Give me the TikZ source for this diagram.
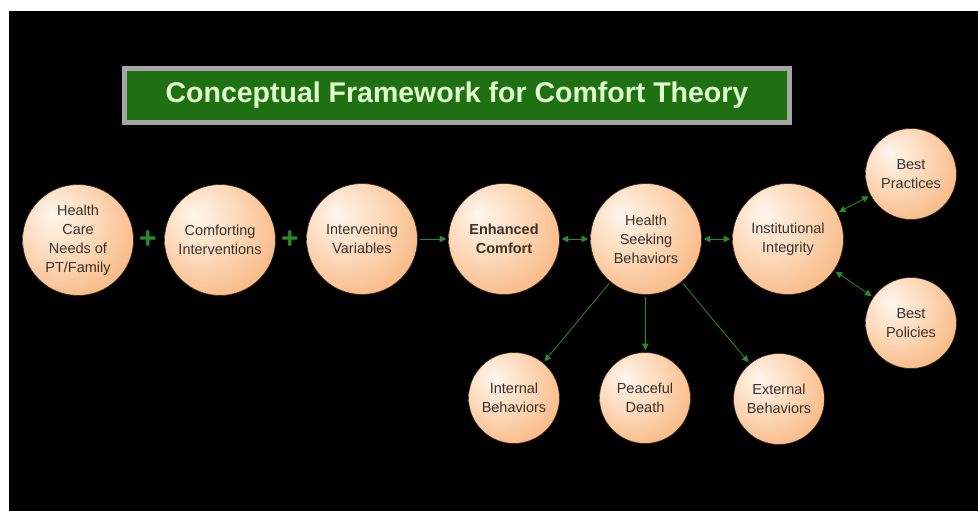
\documentclass[tikz,border=0pt]{standalone}
\usepackage{fontspec}
\setmainfont{Liberation Sans}
\usetikzlibrary{arrows.meta}
\definecolor{orbA}{RGB}{255,246,238}
\definecolor{orbB}{RGB}{252,216,184}
\definecolor{orbC}{RGB}{246,162,95}
\definecolor{orbD}{RGB}{236,122,38}
\definecolor{arrgreen}{RGB}{40,140,40}
\definecolor{titlegreen}{RGB}{30,112,18}
\definecolor{titlegray}{RGB}{165,165,165}
\definecolor{titletext}{RGB}{225,255,205}
\definecolor{orbtext}{RGB}{58,50,42}
\definecolor{orbedge}{RGB}{60,40,25}
\pgfdeclareradialshading{orb}{\pgfpoint{-12bp}{12bp}}{color(0bp)=(orbA); color(18bp)=(orbB); color(46bp)=(orbC); color(67bp)=(orbD)}
\tikzset{
  orbbig/.style={circle, minimum size=111pt, inner sep=0pt, shading=orb, draw=orbedge, line width=0.6pt,
    text=orbtext, align=center, font=\fontsize{14.5}{19}\selectfont},
  orbsmall/.style={orbbig, minimum size=91pt},
  arr/.style={draw=arrgreen, line width=0.8pt, shorten <=2pt, shorten >=2pt},
  tip/.style={-{Triangle[length=6.5pt,width=6.5pt]}},
  tips/.style={{Triangle[length=6.5pt,width=6.5pt]}-{Triangle[length=6.5pt,width=6.5pt]}},
  plussign/.style={text=arrgreen, font=\fontsize{30}{30}\selectfont\bfseries, inner sep=0pt}
}
\begin{document}
\begin{tikzpicture}[x=1pt,y=-1pt]
\useasboundingbox (0,0) rectangle (978,511);
\fill[white] (0,0) rectangle (978,511);
\fill[black] (9,11) rectangle (978,511);
% title
\node[draw=titlegray, line width=5pt, fill=titlegreen, minimum width=665pt, minimum height=54pt,
  text=titletext, font=\fontsize{28.5}{28.5}\selectfont\bfseries] (title) at (457,95.5)
  {Conceptual Framework for Comfort Theory};
% circles
\node[orbbig] (hc) at (78,240) {Health\\Care\\Needs of\\PT/Family};
\node[orbbig] (ci) at (220,240) {Comforting\\Interventions};
\node[orbbig] (iv) at (362,239) {Intervening\\Variables};
\node[orbbig] (ec) at (504,239) {\textbf{Enhanced}\\\textbf{Comfort}};
\node[orbbig] (hs) at (646,239) {Health\\Seeking\\Behaviors};
\node[orbbig] (ii) at (788,239) {Institutional\\Integrity};
\node[orbsmall] (bpr) at (911,174) {Best\\Practices};
\node[orbsmall] (bpo) at (911,323) {Best\\Policies};
\node[orbsmall] (ib) at (514,398) {Internal\\Behaviors};
\node[orbsmall] (pd) at (645,398) {Peaceful\\Death};
\node[orbsmall] (eb) at (779,399) {External\\Behaviors};
% plus signs
\node[plussign] (p1) at (148,240) {+};
\node[plussign] (p2) at (290,240) {+};
% connectors
\draw[arr,tip] (iv) -- (ec);
\draw[arr,tips] (ec) -- (hs);
\draw[arr,tips] (hs) -- (ii);
\draw[arr,tips] (ii) -- (bpr);
\draw[arr,tips] (ii) -- (bpo);
\draw[arr,tip] (hs) -- (ib);
\draw[arr,tip] (hs) -- (pd);
\draw[arr,tip] (hs) -- (eb);
\end{tikzpicture}
\end{document}
